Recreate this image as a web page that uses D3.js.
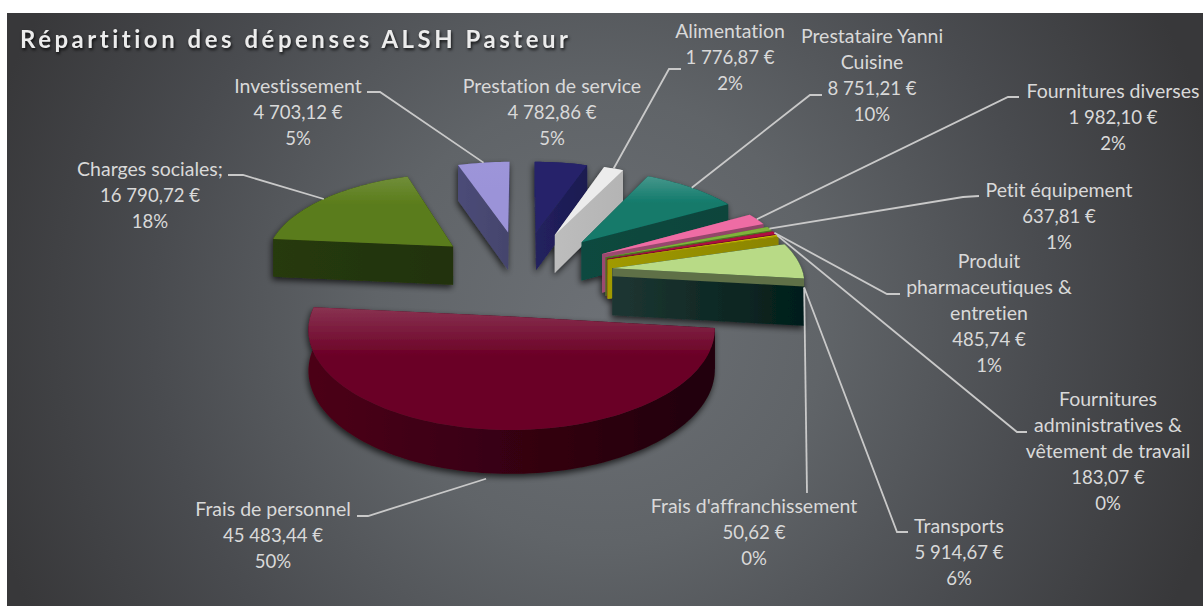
<!DOCTYPE html>
<html lang="fr">
<head>
<meta charset="utf-8">
<script src="https://cdn.jsdelivr.net/npm/d3@7/dist/d3.min.js"></script>
<style>
html,body{margin:0;padding:0;background:#fff;overflow:hidden}
svg{display:block}
.lbl{font-family:Lato,"Open Sans",sans-serif;font-size:19.5px;fill:#d9d9d9;text-anchor:middle;font-variant-ligatures:none}
.lbl .num{font-size:18.6px}
.title{font-family:Lato,"Open Sans",sans-serif;font-weight:700;font-size:24px;fill:#ececec;font-variant-ligatures:none;filter:drop-shadow(1px 2px 1.5px rgba(0,0,0,.75))}
</style>
</head>
<body>
<script>
const titleText = "Répartition des dépenses ALSH Pasteur";
const categories = ["Prestation de service","Alimentation","Prestataire Yanni Cuisine","Fournitures diverses","Petit équipement","Produit pharmaceutiques & entretien","Fournitures administratives & vêtement de travail","Frais d'affranchissement","Transports","Frais de personnel","Charges sociales;","Investissement"];
const values = [4782.86,1776.87,8751.21,1982.10,637.81,485.74,183.07,50.62,5914.67,45483.44,16790.72,4703.12];
const topColors = ["#25236a","#ececec","#127a6b","#ee6ca4","#7fb23a","#b01040","#d6c800","#d6c800","#b8da86","#6b0026","#5a7c1a","#9b93d8"];
const wallFrom = ["#22215f","#bdbdbd","#07493f","#9c4a70","#4f7024","#7a0a2c","#a09a00","#a09a00","#1e3632","#4c0019","#263a0a","#4c4c78"];
const wallTo = ["#1c1b50","#b4b4b4","#07443b","#8f4467","#4f7024","#7a0a2c","#8a8400","#8a8400","#021e1a","#20000a","#213208","#44446c"];
const sheen = [0,0,.22,0,0,0,0,0,0,.2,.14,.02];
const bevel = [0,0,0,0,0,0,0,0,8,0,0,0];
const labelLines = [
 ["Prestation de service"],["Alimentation"],["Prestataire Yanni","Cuisine"],["Fournitures diverses"],["Petit équipement"],
 ["Produit","pharmaceutiques &","entretien"],["Fournitures","administratives &","vêtement de travail"],["Frais d'affranchissement"],
 ["Transports"],["Frais de personnel"],["Charges sociales;"],["Investissement"]];
const labelX = [552,730,872,1113,1059,989,1108,754,959,273,150,298];
const labelY = [87,32,37,92,191,262,400,507,527,510,170,87];
// leader layout: label-side elbow points, then slice point it reaches (slice index, angle in degrees, drop)
const leaders = [
 {slice:1, pts:[[681,69],[669,69]]},
 {slice:2, pts:[[822,95],[810,95]]},
 {slice:3, pts:[[1019,97],[1008,97]]},
 {slice:4, pts:[[979,196],[963,197]]},
 {slice:5, pts:[[900,294],[887,294]]},
 {slice:6, pts:[[1027,432],[1017,432]]},
 {slice:8, pts:[[807,493]], angle:97.2, drop:8},
 {slice:8, pts:[[908,532],[897,532]], angle:97.2, drop:8},
 {slice:9, pts:[[357,516],[368,516]], drop:44},
 {slice:10, pts:[[228,175],[243,175]]},
 {slice:11, pts:[[367,92],[380,92]]}
];

const W=1203,H=606, cx=522, cy=272, A=190, B=88, persp=.12, explode=.48, depth=39;
const svg=d3.select("body").append("svg").attr("width",W).attr("height",H);
const defs=svg.append("defs");

const bg=defs.append("radialGradient").attr("id","bg").attr("gradientUnits","userSpaceOnUse")
 .attr("cx",600).attr("cy",320).attr("r",640);
[[0,"#6c7075"],[.35,"#606468"],[.7,"#494b4f"],[1,"#38383a"]].forEach(s=>bg.append("stop").attr("offset",s[0]).attr("stop-color",s[1]));
svg.append("rect").attr("x",7).attr("y",13).attr("width",W-7).attr("height",H-13).attr("fill","url(#bg)");

const shadow=defs.append("filter").attr("id","shade").attr("x","-10%").attr("y","-10%").attr("width","120%").attr("height","120%");
shadow.append("feDropShadow").attr("dx",-1).attr("dy",3).attr("stdDeviation",3).attr("flood-color","#000").attr("flood-opacity",.7);

const pie=d3.pie().sort(null).startAngle(0).endAngle(2*Math.PI);
const arcs=pie(values);
const total=d3.sum(values);
const money=d3.formatLocale({decimal:",",thousands:" ",grouping:[3],currency:[""," €"]}).format(",.2f");

function project(s,theta,r,drop){
 const mid=(s.startAngle+s.endAngle)/2;
 const X=explode*Math.sin(mid)+r*Math.sin(theta), Z=explode*Math.cos(mid)+r*Math.cos(theta);
 const f=1/(1+persp*Z);
 return [cx+A*X*f, cy-B*Z*f+(drop||0)*Math.pow(f,.6)];
}
const poly=d3.line().curve(d3.curveLinearClosed);
const line=d3.line();

const order=d3.range(arcs.length).sort((a,b)=>{
 const m=i=>(arcs[i].startAngle+arcs[i].endAngle)/2;
 return d3.descending(Math.cos(m(a)),Math.cos(m(b)));
});
const pieG=svg.append("g").attr("filter","url(#shade)");

order.forEach(i=>{
 const s=arcs[i], h=depth+bevel[i];
 const n=Math.max(2,Math.ceil((s.endAngle-s.startAngle)/0.03));
 const thetas=d3.range(n+1).map(k=>s.startAngle+(s.endAngle-s.startAngle)*k/n);
 const rim=thetas.map(t=>project(s,t,1,0));
 const apex=project(s,0,0,0);
 const xs=rim.map(p=>p[0]).concat(apex[0]);

 const wg=defs.append("linearGradient").attr("id","wall"+i).attr("gradientUnits","userSpaceOnUse")
  .attr("x1",d3.min(xs)).attr("x2",d3.max(xs)).attr("y1",0).attr("y2",0);
 wg.append("stop").attr("offset",0).attr("stop-color",wallFrom[i]);
 wg.append("stop").attr("offset",1).attr("stop-color",wallTo[i]);

 const tg=defs.append("linearGradient").attr("id","top"+i).attr("x1",0).attr("x2",0).attr("y1",0).attr("y2",1);
 tg.append("stop").attr("offset",0).attr("stop-color",d3.interpolateRgb(topColors[i],"#fff")(sheen[i]));
 tg.append("stop").attr("offset",.4).attr("stop-color",topColors[i]);

 const g=pieG.append("g").attr("class","slice").datum(s);
 const faces=[];
 const radial=t=>{
  const a0=project(s,0,0,0),a1=project(s,0,0,h),o1=project(s,t,1,h),o0=project(s,t,1,0);
  return {d:[a0,o0,o1,a1],z:Math.cos(t)*.5+Math.cos((s.startAngle+s.endAngle)/2)*explode};
 };
 faces.push(radial(s.startAngle),radial(s.endAngle));
 const rimLow=thetas.map(t=>project(s,t,1,h));
 const arcFace={d:rim.concat(rimLow.slice().reverse()),z:Math.cos((s.startAngle+s.endAngle)/2)};
 faces.push(arcFace);
 faces.sort((a,b)=>d3.descending(a.z,b.z));
 g.selectAll("path.wall").data(faces).join("path").attr("class","wall")
  .attr("d",f=>poly(f.d)).attr("fill",`url(#wall${i})`);
 if(bevel[i]){
  const e=project(s,s.endAngle,1,0), e2=project(s,s.endAngle,1,bevel[i]), a2=project(s,0,0,bevel[i]);
  g.append("path").attr("d",poly([apex,e,e2,a2])).attr("fill","#5f6f47");
 }
 g.append("path").attr("class","top").attr("d",poly([apex].concat(rim))).attr("fill",`url(#top${i})`);
});

const leaderG=svg.append("g").attr("fill","none").attr("stroke","#c9c9c9").attr("stroke-width",1.8);
leaders.forEach(l=>{
 const s=arcs[l.slice];
 const t=l.angle!==undefined? l.angle*Math.PI/180 : (s.startAngle+s.endAngle)/2;
 const path=l.pts.concat([project(s,t,1,l.drop||0)]);
 leaderG.append("path").attr("d",line(path));
});
svg.append("g").selectAll("text.lbl").data(arcs).join("text").attr("class","lbl")
 .attr("transform",(d,i)=>`translate(${labelX[i]},${labelY[i]+6})`)
 .each(function(d,i){
  const nameCount=labelLines[i].length;
  const rows=labelLines[i].concat([money(d.data)+" €", Math.round(d.data/total*100)+"%"]);
  d3.select(this).selectAll("tspan").data(rows).join("tspan").attr("x",0).attr("y",(r,k)=>k*26)
   .attr("class",(r,k)=>k>=nameCount?"num":null).text(r=>r);
 });
svg.append("text").attr("class","title").attr("x",20).attr("y",48)
 .attr("textLength",548).attr("lengthAdjust","spacing").text(titleText);
</script>
</body>
</html>
